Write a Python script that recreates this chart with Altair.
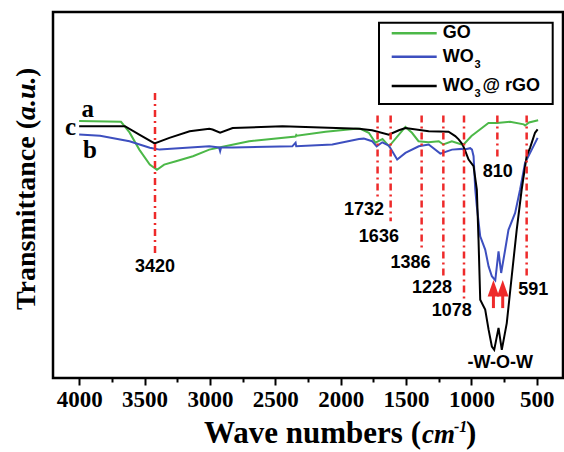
import altair as alt
import pandas as pd

# ---------------- data ----------------
GO_WAVE = [4000, 3680, 3615, 3540, 3460, 3405, 3350, 3260, 3130, 3005, 2930, 2700, 2345, 2340, 2335,
           2115, 1885, 1850, 1785, 1735, 1680, 1630, 1505, 1455, 1405, 1330, 1250, 1215, 1150, 1075,
           1060, 1000, 920, 870, 805, 705, 600, 590, 560, 490]
GO_T = [70.2, 70.0, 67.1, 62.4, 58.3, 56.9, 58.3, 59.2, 60.6, 62.4, 63.0, 64.7, 66.0, 66.4, 66.2,
        67.3, 68.1, 68.1, 67.0, 64.3, 65.3, 63.3, 68.6, 67.0, 64.7, 64.4, 64.7, 63.8, 64.7, 63.8,
        63.8, 66.1, 68.3, 69.7, 69.7, 70.0, 69.3, 69.0, 69.8, 70.4]

WO3_WAVE = [4000, 3840, 3615, 3460, 3385, 3005, 2930, 2922, 2915, 2826, 2370, 2345, 2340, 2064, 1860,
            1823, 1760, 1725, 1682, 1632, 1568, 1505, 1403, 1327, 1238, 1149, 1073, 1060, 1010, 996,
            984, 971, 959, 933, 895, 869, 844, 818, 793, 773, 742, 717, 666, 628, 590, 539, 494]
WO3_T = [66.5, 66.2, 64.7, 62.9, 62.4, 63.3, 63.0, 62.0, 63.0, 63.0, 63.3, 64.3, 63.3, 63.8, 65.3,
         65.4, 64.7, 63.3, 64.4, 63.5, 59.7, 61.5, 63.3, 63.8, 61.3, 62.4, 62.6, 62.4, 62.8, 62.4,
         60.6, 51.5, 46.9, 38.7, 35.1, 30.5, 27.8, 26.7, 34.6, 28.7, 35.1, 40.5, 45.1, 51.5, 58.8, 62.4, 65.6]

RGO_WAVE = [4000, 3650, 3540, 3423, 3310, 3155, 3005, 2980, 2922, 2826, 2445, 1860, 1760, 1632, 1555,
            1505, 1327, 1175, 1124, 1098, 1068, 1047, 1022, 984, 959, 946, 933, 908, 895, 869, 844,
            826, 793, 768, 730, 692, 654, 616, 578, 552, 514, 494]
RGO_T = [68.8, 68.8, 66.5, 64.1, 65.6, 67.4, 68.1, 67.9, 67.0, 68.3, 68.8, 68.1, 67.7, 66.5, 67.7,
         68.3, 67.4, 67.3, 66.1, 65.2, 63.8, 62.0, 59.7, 57.9, 51.5, 37.8, 21.4, 19.6, 18.7, 13.2, 8.6,
         7.7, 13.7, 7.7, 15.0, 27.8, 40.5, 51.5, 60.6, 62.9, 67.0, 67.9]

# peak marker lines (position, top, bottom) and their labels
PEAK_LABELS = ["3420", "1732", "1636", "1386", "1228", "1078", "810", "591"]
PEAK_WAVE = [3420, 1718, 1618, 1381, 1215, 1057, 802, 578]
PEAK_TOP = [77.9, 71.7, 71.7, 71.7, 71.7, 71.7, 71.7, 71.7]
PEAK_BOTTOM = [33.7, 48.7, 42.8, 34.6, 27.8, 21.4, 59.7, 27.5]
LABEL_WAVE = [3420, 1822, 1708, 1467, 1302, 1150, 799, 527]
LABEL_T = [30.2, 46.0, 38.5, 31.4, 24.6, 18.2, 56.2, 24.0]

NOTE_TEXT = ["-W-O-W"]
NOTE_WAVE = [780]
NOTE_T = [4.1]

CURVE_LETTERS = ["a", "c", "b"]
LETTER_WAVE = [3934, 4066, 3918]
LETTER_T = [73.4, 68.6, 62.4]

ARROW_WAVE = [832, 761]
ARROW_BASE = [19.1, 19.1]
ARROW_HEAD = [24.5, 24.5]

TICKS = list(range(500, 4001, 250))

RED = "#ee2a2a"
GREEN = "#4cb848"
BLUE = "#3d4fbf"
SERIF = "Liberation Serif"
SANS = "Liberation Sans"
AXIS_FONT = "'Liberation Serif', 'Times New Roman', serif"

# ---------------- scales ----------------
xs = alt.Scale(domain=[300, 4200], reverse=True, nice=False, zero=False)
ys = alt.Scale(domain=[0, 100], nice=False, zero=False)

x_axis = alt.Axis(
    values=TICKS, format="d",
    labelExpr="datum.value % 500 === 0 ? datum.label : ''",
    tickSize={"condition": {"test": "datum.value % 500 === 0", "value": 7}, "value": 4},
    tickColor="black", tickWidth=2, domain=False, grid=False,
    labelFont=AXIS_FONT, labelFontWeight="bold", labelFontSize=23, labelColor="black",
    labelPadding=3, labelFlush=False, title=None,
)


def X(field="wave"):
    return alt.X(f"{field}:Q", scale=xs, axis=x_axis)


def Y(field):
    return alt.Y(f"{field}:Q", scale=ys, axis=None)


def curve(w, t, color):
    df = pd.DataFrame({"wave": w, "t": t})
    return alt.Chart(df).mark_line(color=color, strokeWidth=2, clip=True).encode(
        x=X(), y=Y("t"), order=alt.Order("wave:Q"))


green = curve(GO_WAVE, GO_T, GREEN)
blue = curve(WO3_WAVE, WO3_T, BLUE)
black = curve(RGO_WAVE, RGO_T, "black")

peaks_df = pd.DataFrame({"wave": PEAK_WAVE, "top": PEAK_TOP, "bottom": PEAK_BOTTOM})
peaks = alt.Chart(peaks_df).mark_rule(color=RED, strokeWidth=2.5, strokeDash=[7, 4, 2, 4]).encode(
    x=X(), y=Y("top"), y2="bottom:Q")

labels_df = pd.DataFrame({"wave": LABEL_WAVE, "t": LABEL_T, "txt": PEAK_LABELS})
labels = alt.Chart(labels_df).mark_text(font=SANS, fontWeight="bold", fontSize=18, color="black",
                                        align="center", baseline="middle").encode(
    x=X(), y=Y("t"), text="txt:N")

note_df = pd.DataFrame({"wave": NOTE_WAVE, "t": NOTE_T, "txt": NOTE_TEXT})
note = alt.Chart(note_df).mark_text(font=SANS, fontWeight="bold", fontSize=18, color="black",
                                    align="center", baseline="middle").encode(
    x=X(), y=Y("t"), text="txt:N")

letters_df = pd.DataFrame({"wave": LETTER_WAVE, "t": LETTER_T, "txt": CURVE_LETTERS})
letters = alt.Chart(letters_df).mark_text(font=SERIF, fontWeight="bold", fontSize=25, color="black",
                                          align="center", baseline="middle").encode(
    x=X(), y=Y("t"), text="txt:N")

arrows_df = pd.DataFrame({"wave": ARROW_WAVE, "base": ARROW_BASE, "head": ARROW_HEAD})
shafts = alt.Chart(arrows_df).mark_rule(color=RED, strokeWidth=3).encode(
    x=X(), y=Y("base"), y2="head:Q")
heads = alt.Chart(arrows_df).mark_point(shape="M0,-1L0.7,1L-0.7,1Z", size=272, filled=True,
                                        color=RED, opacity=1, strokeWidth=0).encode(
    x=X(), y=Y("head"))

one = pd.DataFrame({"k": [0]})

# legend (drawn by hand, pixel layout)
leg_box = alt.Chart(one).mark_rect(fill="white", stroke="black", strokeWidth=2).encode(
    x=alt.value(326), x2=alt.value(499.7), y=alt.value(10.7), y2=alt.value(92))
leg_layers = [leg_box]
for yy, col in [(21.3, GREEN), (44.7, BLUE), (74, "black")]:
    leg_layers.append(alt.Chart(one).mark_rule(color=col, strokeWidth=2.5).encode(
        x=alt.value(338.7), x2=alt.value(383.7), y=alt.value(yy)))


def ptext(txt, x, y, size, font=SANS, style="normal", align="left", baseline="middle", angle=0):
    kw = dict(text=txt, font=font, fontWeight="bold", fontSize=size, fontStyle=style, color="black",
              align=align, baseline=baseline)
    if angle:
        kw["angle"] = angle
    return alt.Chart(one).mark_text(**kw).encode(x=alt.value(x), y=alt.value(y))


leg_layers += [
    ptext("GO", 389.7, 21.3, 18),
    ptext("WO", 389.7, 44.7, 18),
    ptext("3", 421.5, 53, 11),
    ptext("WO", 389.7, 74, 18),
    ptext("3", 421.5, 82.3, 11),
    ptext("@ rGO", 429.5, 74, 18),
]

# axis titles with mixed styles
titles = [
    ptext("Wave numbers (", 368, 431, 31, font=SERIF, align="right", baseline="alphabetic"),
    ptext("cm", 369, 431, 27, font=SERIF, style="italic", baseline="alphabetic"),
    ptext("-1", 401, 420, 16, font=SERIF, style="italic", baseline="alphabetic"),
    ptext(")", 413, 431, 31, font=SERIF, baseline="alphabetic"),
    ptext("Transmittance (", -18, 108, 28, font=SERIF, align="right", baseline="alphabetic", angle=270),
    ptext("a.u.", -18, 108, 28, font=SERIF, style="italic", align="left", baseline="alphabetic", angle=270),
    ptext(")", -18, 65, 28, font=SERIF, align="left", baseline="alphabetic", angle=270),
]

chart = alt.layer(
    green, blue, black, peaks, labels, note, letters, shafts, heads, *leg_layers, *titles
).properties(
    width=510, height=366,
    padding={"left": 53, "top": 12, "right": 1, "bottom": 74},
    autosize=alt.AutoSizeParams(type="none"),
    background="white",
).configure_view(
    stroke="black", strokeWidth=2.5
).configure_axis(
    labelFont=AXIS_FONT, labelFontWeight="bold", labelFontSize=23, labelColor="black"
)

chart.save("out.html", embed_options={"renderer": "svg", "actions": False})
